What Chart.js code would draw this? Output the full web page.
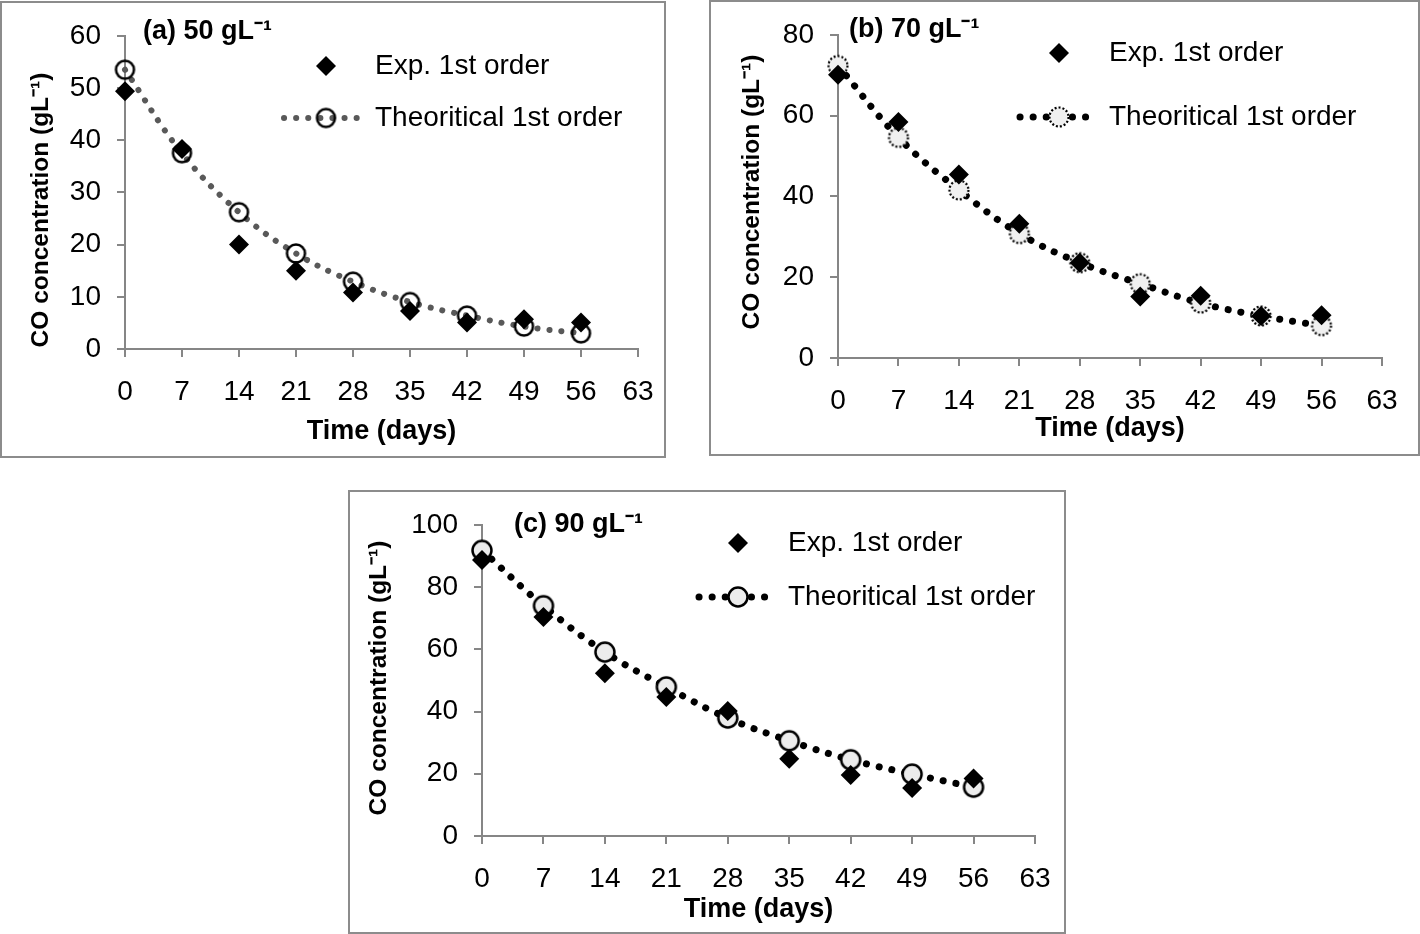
<!DOCTYPE html>
<html>
<head>
<meta charset="utf-8">
<script src="https://cdn.jsdelivr.net/npm/chart.js@4.4.0/dist/chart.umd.min.js"></script>
<style>
    body { margin: 0; background: #fff; width: 1420px; height: 934px; position: relative; overflow: hidden; }
    .panel { position: absolute; border: 2px solid #8c8c8c; box-sizing: border-box; }
    .panel canvas { display: block; }
    #boxA { left: 0; top: 1px; width: 666px; height: 457px; }
    #boxB { left: 709px; top: 0; width: 711px; height: 456px; }
    #boxC { left: 348px; top: 490px; width: 718px; height: 444px; }
</style>
</head>
<body>
<div class="panel" id="boxA"><canvas id="chartA" width="662" height="453"></canvas></div>
<div class="panel" id="boxB"><canvas id="chartB" width="707" height="452"></canvas></div>
<div class="panel" id="boxC"><canvas id="chartC" width="714" height="440"></canvas></div>
<script>
// データ
const days = [0, 7, 14, 21, 28, 35, 42, 49, 56];
const xTickValues = [0, 7, 14, 21, 28, 35, 42, 49, 56, 63];

const expA = [49.4, 38.3, 20.0, 15.0, 10.8, 7.3, 5.1, 5.7, 5.1];
const theoA = [53.5, 37.5, 26.2, 18.3, 12.9, 9.0, 6.4, 4.3, 3.0];
const yTicksA = [0, 10, 20, 30, 40, 50, 60];

const expB = [70.1, 58.4, 45.4, 33.2, 23.6, 15.2, 15.4, 10.4, 10.6];
const theoB = [72.4, 54.6, 41.6, 30.8, 23.6, 18.4, 13.6, 10.4, 8.0];
const yTicksB = [0, 20, 40, 60, 80];

const expC = [88.7, 70.4, 52.3, 44.7, 40.2, 24.8, 19.6, 15.4, 18.5];
const theoC = [91.8, 74.0, 59.1, 47.9, 37.9, 30.6, 24.5, 19.9, 15.7];
const yTicksC = [0, 20, 40, 60, 80, 100];

const seriesLabels = ['Exp. 1st order', 'Theoritical 1st order'];
const panelTitles = ['(a) 50 gL⁻¹', '(b) 70 gL⁻¹', '(c) 90 gL⁻¹'];
const xTitle = 'Time (days)';
const yTitle = 'CO concentration (gL⁻¹)';

const FONT = "'Liberation Sans', Arial, sans-serif";
const AXIS_GRAY = '#868686';

// 丸マーカー（点線の縁も描けるようにcanvasで作る）
function makeCircleMarker(r, fill, lw, dash) {
    const c = document.createElement('canvas');
    const s = Math.ceil(2 * r + lw + 4);
    c.width = c.height = s;
    const g = c.getContext('2d');
    g.beginPath();
    g.arc(s / 2, s / 2, r, 0, Math.PI * 2);
    if (fill) { g.fillStyle = fill; g.fill(); }
    g.setLineDash(dash || []);
    g.lineWidth = lw;
    g.strokeStyle = '#000';
    g.stroke();
    return c;
}

// パネル見出し・縦軸タイトル・凡例
const decorPlugin = {
    id: 'decor',
    afterDraw(chart, args, opts) {
        const ctx = chart.ctx;
        ctx.save();
        ctx.fillStyle = '#000';
        ctx.textBaseline = 'middle';
        ctx.font = 'bold 27px ' + FONT;
        ctx.fillText(opts.title, opts.titleX, opts.titleY);

        // 縦軸タイトル
        ctx.save();
        ctx.translate(opts.yTitleX, opts.yTitleY);
        ctx.rotate(-Math.PI / 2);
        ctx.textAlign = 'center';
        ctx.font = 'bold 24.5px ' + FONT;
        ctx.fillText(yTitle, 0, 0);
        ctx.restore();

        // 凡例 1行目: ひし形
        const r = 10;
        ctx.beginPath();
        ctx.moveTo(opts.markX - r, opts.row1);
        ctx.lineTo(opts.markX, opts.row1 - r);
        ctx.lineTo(opts.markX + r, opts.row1);
        ctx.lineTo(opts.markX, opts.row1 + r);
        ctx.closePath();
        ctx.fill();
        ctx.font = '28px ' + FONT;
        ctx.fillText(seriesLabels[0], opts.textX, opts.row1);

        // 凡例 2行目: 点線 + 丸
        ctx.beginPath();
        ctx.setLineDash(opts.dash);
        ctx.lineCap = 'round';
        ctx.lineWidth = opts.lineWidth;
        ctx.strokeStyle = opts.lineColor;
        ctx.moveTo(opts.lineFrom, opts.row2);
        ctx.lineTo(opts.lineTo, opts.row2);
        ctx.stroke();
        ctx.setLineDash([]);
        const m = opts.marker;
        ctx.drawImage(m, opts.markX - m.width / 2, opts.row2 - m.height / 2);
        ctx.fillText(seriesLabels[1], opts.textX, opts.row2);
        ctx.restore();
    }
};

function makeChart(id, p) {
    const ctx = document.getElementById(id).getContext('2d');
    new Chart(ctx, {
        type: 'line',
        data: {
            labels: days,
            datasets: [
                {
                    label: seriesLabels[0],
                    data: days.map((d, i) => ({ x: d, y: p.exp[i] })),
                    showLine: false,
                    pointStyle: 'rectRot',
                    pointRadius: 10,
                    backgroundColor: '#000',
                    borderWidth: 0,
                    clip: false
                },
                {
                    label: seriesLabels[1],
                    data: days.map((d, i) => ({ x: d, y: p.theo[i] })),
                    borderColor: p.lineColor,
                    borderWidth: p.lineWidth,
                    borderDash: p.dash,
                    borderCapStyle: 'round',
                    tension: 0.4,
                    pointStyle: p.marker,
                    pointRadius: 10,
                    clip: false
                }
            ]
        },
        options: {
            responsive: false,
            animation: false,
            events: [],
            layout: { padding: p.padding },
            plugins: {
                legend: { display: false },
                tooltip: { enabled: false },
                decor: p.decor
            },
            scales: {
                x: {
                    type: 'linear',
                    min: 0,
                    max: 63,
                    afterBuildTicks: s => { s.ticks = xTickValues.map(v => ({ value: v })); },
                    afterFit: s => { s.height = p.xHeight; s.paddingLeft = 0; s.paddingRight = 0; },
                    grid: { drawOnChartArea: false, color: AXIS_GRAY, lineWidth: 2, tickLength: 8 },
                    border: { color: AXIS_GRAY, width: 2 },
                    ticks: { color: '#000', font: { family: FONT, size: 28 }, padding: 18, maxRotation: 0, autoSkip: false },
                    title: { display: true, text: xTitle, color: '#000', font: { family: FONT, size: 27, weight: 'bold', lineHeight: 1.2 }, padding: { bottom: p.xTitlePad } }
                },
                y: {
                    type: 'linear',
                    min: 0,
                    max: p.yTicks[p.yTicks.length - 1],
                    afterBuildTicks: s => { s.ticks = p.yTicks.map(v => ({ value: v })); },
                    afterFit: s => { s.width = p.yWidth; },
                    grid: { drawOnChartArea: false, color: AXIS_GRAY, lineWidth: 2, tickLength: 8 },
                    border: { color: AXIS_GRAY, width: 2 },
                    ticks: { color: '#000', font: { family: FONT, size: 28 }, padding: 16 }
                }
            }
        },
        plugins: [decorPlugin]
    });
}

const markerA = makeCircleMarker(9, null, 2.5);
const markerB = makeCircleMarker(9.5, '#f0f0f0', 2.2, [2, 2]);
const markerC = makeCircleMarker(9.5, '#ececec', 2.5);

makeChart('chartA', {
    exp: expA, theo: theoA, yTicks: yTicksA,
    lineColor: '#595959', lineWidth: 6, dash: [0.1, 12], marker: markerA,
    padding: { left: 0, top: 22, right: 26, bottom: 0 },
    yWidth: 123, xHeight: 107, xTitlePad: 8,
    decor: {
        title: panelTitles[0], titleX: 141, titleY: 29, yTitleX: 39, yTitleY: 207,
        markX: 324, textX: 373, row1: 63, row2: 115, lineFrom: 282, lineTo: 357,
        lineColor: '#595959', lineWidth: 6, dash: [0.1, 12], marker: markerA
    }
});

makeChart('chartB', {
    exp: expB, theo: theoB, yTicks: yTicksB,
    lineColor: '#000', lineWidth: 7, dash: [0.1, 13], marker: markerB,
    padding: { left: 0, top: 23, right: 36, bottom: 0 },
    yWidth: 127, xHeight: 96, xTitlePad: 9,
    decor: {
        title: panelTitles[1], titleX: 138, titleY: 28, yTitleX: 41, yTitleY: 190,
        markX: 348, textX: 398, row1: 51, row2: 115, lineFrom: 309, lineTo: 382,
        lineColor: '#000', lineWidth: 7, dash: [0.1, 13], marker: markerB
    }
});

makeChart('chartC', {
    exp: expC, theo: theoC, yTicks: yTicksC,
    lineColor: '#000', lineWidth: 7, dash: [0.1, 13], marker: markerC,
    padding: { left: 0, top: 25, right: 29, bottom: 0 },
    yWidth: 132, xHeight: 96, xTitlePad: 6,
    decor: {
        title: panelTitles[2], titleX: 164, titleY: 33, yTitleX: 29, yTitleY: 186,
        markX: 388, textX: 438, row1: 51, row2: 105, lineFrom: 349, lineTo: 423,
        lineColor: '#000', lineWidth: 7, dash: [0.1, 13], marker: markerC
    }
});
</script>
</body>
</html>
